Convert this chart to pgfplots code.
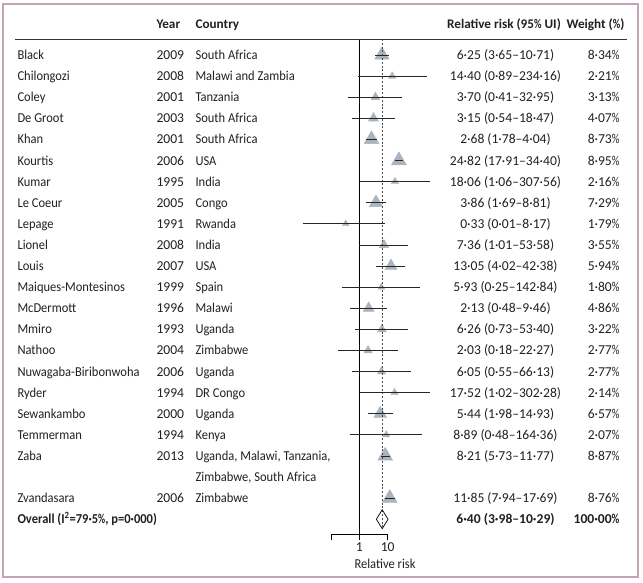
\documentclass[border=0pt]{standalone}
\usepackage{pgfplots}
\pgfplotsset{compat=1.18}
\usepackage{pgfplotstable}
\usepackage{graphicx}
\usepackage{fontspec}
\setmainfont{Carlito}
\newfontfamily\cond{Carlito}[FakeStretch=0.92]
\definecolor{framec}{RGB}{198,162,182}
\definecolor{tri}{RGB}{170,180,190}
\definecolor{txt}{RGB}{35,31,32}

\pgfplotstableread{
r rr lo hi w
1 6.25 3.65 10.71 8.34
2 14.40 0.89 234.16 2.21
3 3.70 0.41 32.95 3.13
4 3.15 0.54 18.47 4.07
5 2.68 1.78 4.04 8.73
6 24.82 17.91 34.40 8.95
7 18.06 1.06 307.56 2.16
8 3.86 1.69 8.81 7.29
9 0.33 0.01 8.17 1.79
10 7.36 1.01 53.58 3.55
11 13.05 4.02 42.38 5.94
12 5.93 0.25 142.84 1.80
13 2.13 0.48 9.46 4.86
14 6.26 0.73 53.40 3.22
15 2.03 0.18 22.27 2.77
16 6.05 0.55 66.13 2.77
17 17.52 1.02 302.28 2.14
18 5.44 1.98 14.93 6.57
19 8.89 0.48 164.36 2.07
20 8.21 5.73 11.77 8.87
22 11.85 7.94 17.69 8.76
}\studies

\newcommand{\fs}{\fontsize{13.6}{16}\selectfont}
\newcommand{\hs}{\fontsize{13.2}{16}\selectfont}
\newcommand{\pct}{\scalebox{0.78}[1]{\%}}

\begin{document}
\begin{tikzpicture}[font=\fs, text=txt]
% layer 1: weighted study markers
\begin{axis}[
  at={(331pt,-534pt)}, anchor=south west,
  scale only axis, width=56.7pt, height=495pt,
  xmode=log, xmin=0.1, xmax=10,
  ymin=0.2417, ymax=23.701, y dir=reverse,
  clip=false, hide axis]
\addplot[scatter, only marks, mark=triangle*,
  scatter/use mapped color={draw=tri, fill=tri},
  visualization depends on={2.887*sqrt(\thisrow{w}) \as \msz},
  scatter/@pre marker code/.append style={/tikz/mark size=\msz pt, /tikz/line width=0.3pt}]
  table[x=rr, y=r] {\studies};
\end{axis}
% layer 2: lines, intervals, overall and axis
\begin{axis}[
  at={(331pt,-534pt)}, anchor=south west,
  scale only axis, width=56.7pt, height=495pt,
  xmode=log, xmin=0.1, xmax=10,
  ymin=0.2417, ymax=23.701, y dir=reverse,
  clip=false,
  axis x line*=bottom, axis y line=none,
  xtick={0.1,1,10}, xticklabels={,1,10}, xminorticks=false,
  tick align=outside, major tick length=6pt,
  xticklabel style={font=\fs, text=txt, yshift=1pt},
  axis line style={black, line width=0.8pt},
  every tick/.style={black, line width=0.8pt},
]
% null line
\addplot[black, line width=0.8pt] coordinates {(1,0.2417) (1,23.701)};
% overall estimate line
\addplot[black!70, line width=0.9pt, dash pattern=on 2pt off 1.8pt] coordinates {(6.40,0.2417) (6.40,23.45)};
% confidence intervals
\addplot[black!85, line width=0.7pt, unbounded coords=jump] coordinates {
(3.65,1) (10.71,1) (nan,nan)
(0.89,2) (234.16,2) (nan,nan)
(0.41,3) (32.95,3) (nan,nan)
(0.54,4) (18.47,4) (nan,nan)
(1.78,5) (4.04,5) (nan,nan)
(17.91,6) (34.40,6) (nan,nan)
(1.06,7) (307.56,7) (nan,nan)
(1.69,8) (8.81,8) (nan,nan)
(0.01,9) (8.17,9) (nan,nan)
(1.01,10) (53.58,10) (nan,nan)
(4.02,11) (42.38,11) (nan,nan)
(0.25,12) (142.84,12) (nan,nan)
(0.48,13) (9.46,13) (nan,nan)
(0.73,14) (53.40,14) (nan,nan)
(0.18,15) (22.27,15) (nan,nan)
(0.55,16) (66.13,16) (nan,nan)
(1.02,17) (302.28,17) (nan,nan)
(1.98,18) (14.93,18) (nan,nan)
(0.48,19) (164.36,19) (nan,nan)
(5.73,20) (11.77,20) (nan,nan)
(7.94,22) (17.69,22)
};
% overall diamond
\addplot[black, line width=0.7pt] coordinates {(3.98,23) (6.40,22.55) (10.29,23) (6.40,23.45) (3.98,23)};
\end{axis}

\begin{scope}[x=1pt, y=-1pt]
\draw[framec, line width=1.3pt] (3,4) rectangle (638,577);
\draw[black!80, line width=0.8pt] (15,39) -- (627,39);
\node[anchor=base west, font=\hs\bfseries] at (153,28.5) {Year};
\node[anchor=base west, font=\hs\bfseries] at (192,28.5) {Country};
\node[anchor=base, font=\hs\bfseries] at (504,28.5) {Relative risk (95\pct\ UI)};
\node[anchor=base east, font=\hs\bfseries] at (628,28.5) {Weight (\pct)};
\foreach \r/\n/\yr/\c/\rr/\wt in {
 1/Black/2009/South Africa/6·25 (3·65–10·71)/8·34,
 2/Chilongozi/2008/Malawi and Zambia/14·40 (0·89–234·16)/2·21,
 3/Coley/2001/Tanzania/3·70 (0·41–32·95)/3·13,
 4/De Groot/2003/South Africa/3·15 (0·54–18·47)/4·07,
 5/Khan/2001/South Africa/2·68 (1·78–4·04)/8·73,
 6/Kourtis/2006/USA/24·82 (17·91–34·40)/8·95,
 7/Kumar/1995/India/18·06 (1·06–307·56)/2·16,
 8/Le Coeur/2005/Congo/3·86 (1·69–8·81)/7·29,
 9/Lepage/1991/Rwanda/0·33 (0·01–8·17)/1·79,
 10/Lionel/2008/India/7·36 (1·01–53·58)/3·55,
 11/Louis/2007/USA/13·05 (4·02–42·38)/5·94,
 12/Maiques-Montesinos/1999/Spain/5·93 (0·25–142·84)/1·80,
 13/McDermott/1996/Malawi/2·13 (0·48–9·46)/4·86,
 14/Mmiro/1993/Uganda/6·26 (0·73–53·40)/3·22,
 15/Nathoo/2004/Zimbabwe/2·03 (0·18–22·27)/2·77,
 16/Nuwagaba-Biribonwoha/2006/Uganda/6·05 (0·55–66·13)/2·77,
 17/Ryder/1994/DR Congo/17·52 (1·02–302·28)/2·14,
 18/Sewankambo/2000/Uganda/5·44 (1·98–14·93)/6·57,
 19/Temmerman/1994/Kenya/8·89 (0·48–164·36)/2·07,
 20/Zaba/2013/{Uganda, Malawi, Tanzania,}/8·21 (5·73–11·77)/8·87,
 22/Zvandasara/2006/Zimbabwe/11·85 (7·94–17·69)/8·76}{
  \pgfmathsetmacro\yy{55+21.1*(\r-1)+4.5}
  \node[anchor=base west, font=\fs\cond] at (14,\yy) {\n};
  \node[anchor=base west] at (153,\yy) {\yr};
  \node[anchor=base west, font=\fs\cond] at (192,\yy) {\c};
  \node[anchor=base] at (505.5,\yy) {\rr};
  \node[anchor=base east] at (623,\yy) {\wt\pct};
}
\pgfmathsetmacro\yy{55+21.1*20+4.5}
\node[anchor=base west, font=\fs\cond] at (192,\yy) {Zimbabwe, South Africa};
\pgfmathsetmacro\yy{55+21.1*22+4.5}
\node[anchor=base west, font=\fs\cond\bfseries] at (14,\yy) {Overall (I\textsuperscript{2}=79·5\pct, p=0·000)};
\node[anchor=base, font=\fs\bfseries] at (505.5,\yy) {6·40 (3·98–10·29)};
\node[anchor=base east, font=\fs\bfseries] at (623,\yy) {100·00\pct};
\node[anchor=base, font=\fs\cond] at (385,568.5) {Relative risk};
\path (0,0) rectangle (643,582);
\end{scope}
\end{tikzpicture}
\end{document}
